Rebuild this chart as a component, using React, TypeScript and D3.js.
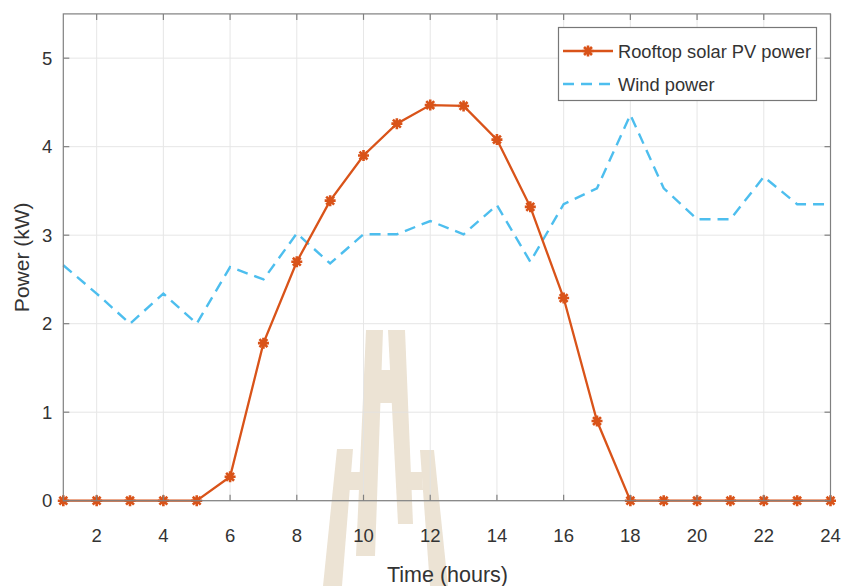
import React, { useEffect, useRef } from "react";
import * as d3 from "d3";

// Hourly generation profile, hours 1..24
const hours = d3.range(1, 25);
const solarPower = [0, 0, 0, 0, 0, 0.27, 1.78, 2.7, 3.39, 3.9, 4.26, 4.47, 4.46, 4.08, 3.32, 2.29, 0.9, 0, 0, 0, 0, 0, 0, 0];
const windPower = [2.66, 2.34, 2.0, 2.34, 2.0, 2.64, 2.5, 3.02, 2.68, 3.01, 3.01, 3.16, 3.01, 3.34, 2.7, 3.35, 3.53, 4.36, 3.53, 3.18, 3.18, 3.66, 3.35, 3.35];
const xTicks = [2, 4, 6, 8, 10, 12, 14, 16, 18, 20, 22, 24];
const yTicks = [0, 1, 2, 3, 4, 5];
const seriesNames = ["Rooftop solar PV power", "Wind power"];

const W = 842;
const H = 586;
const FONT = "'Liberation Sans', Arial, sans-serif";
const SOLAR = "#D95319";
const WIND = "#4DBEEE";
const AXIS = "#808080";
const GRID = "#e3e3e3";
const TEXT = "#333333";

// Logo polygons (emblem behind the plot)
const emblem: [number, number][][] = [
  [[366, 330], [383, 330], [375, 556], [356, 556]],
  [[388, 330], [405, 330], [413, 524], [398, 524]],
  [[380, 370], [392, 370], [392, 403], [380, 403]],
  [[337, 449], [353, 449], [342, 586], [323, 586]],
  [[350, 472], [364, 472], [363, 490], [349, 490]],
  [[420, 450], [434, 450], [448, 586], [430, 586]],
  [[407, 472], [422, 472], [423, 490], [408, 490]],
];

function asterisk(cx: number, cy: number, r: number) {
  const d = r * 0.72;
  return `M${cx - r},${cy}L${cx + r},${cy}M${cx},${cy - r}L${cx},${cy + r}` +
    `M${cx - d},${cy - d}L${cx + d},${cy + d}M${cx - d},${cy + d}L${cx + d},${cy - d}`;
}

export default function App() {
  const ref = useRef<SVGSVGElement | null>(null);

  useEffect(() => {
    const svg = d3.select(ref.current);
    svg.selectAll("*").remove();

    const x = d3.scaleLinear().domain([1, 24]).range([63.3, 830.5]);
    const y = d3.scaleLinear().domain([0, 5.5]).range([500.7, 13.9]);
    const [x0, x1] = x.range();
    const [y0, y1] = y.range();

    svg.append("rect").attr("width", W).attr("height", H).attr("fill", "#fff");

    // emblem
    svg.append("g").selectAll("polygon").data(emblem).join("polygon")
      .attr("points", (p) => p.map((q) => q.join(",")).join(" "))
      .attr("fill", "#ece3d4");

    // grid
    const grid = svg.append("g").attr("stroke", GRID).attr("stroke-width", 1).attr("opacity", 0.85);
    grid.selectAll("line.v").data(xTicks).join("line")
      .attr("x1", (d) => x(d)).attr("x2", (d) => x(d)).attr("y1", y0).attr("y2", y1);
    grid.selectAll("line.h").data(yTicks).join("line")
      .attr("x1", x0).attr("x2", x1).attr("y1", (d) => y(d)).attr("y2", (d) => y(d));

    // series
    const line = d3.line<number>().x((_, i) => x(hours[i])).y((d) => y(d));
    svg.append("path").datum(windPower).attr("d", line).attr("fill", "none")
      .attr("stroke", WIND).attr("stroke-width", 2.4).attr("stroke-dasharray", "11,7");
    svg.append("path").datum(solarPower).attr("d", line).attr("fill", "none")
      .attr("stroke", SOLAR).attr("stroke-width", 2.3);
    svg.append("g").selectAll("path").data(solarPower).join("path")
      .attr("d", (d, i) => asterisk(x(hours[i]), y(d), 5.5))
      .attr("stroke", SOLAR).attr("stroke-width", 2.6).attr("fill", "none");

    // axes box with inward ticks
    const ax = svg.append("g").attr("stroke", AXIS).attr("stroke-width", 1.2).attr("fill", "none");
    ax.append("rect").attr("x", x0).attr("y", y1).attr("width", x1 - x0).attr("height", y0 - y1);
    const tk = 6;
    xTicks.forEach((t) => {
      ax.append("line").attr("x1", x(t)).attr("x2", x(t)).attr("y1", y0).attr("y2", y0 - tk);
      ax.append("line").attr("x1", x(t)).attr("x2", x(t)).attr("y1", y1).attr("y2", y1 + tk);
    });
    yTicks.forEach((t) => {
      ax.append("line").attr("x1", x0).attr("x2", x0 + tk).attr("y1", y(t)).attr("y2", y(t));
      ax.append("line").attr("x1", x1).attr("x2", x1 - tk).attr("y1", y(t)).attr("y2", y(t));
    });

    // tick labels
    const lbl = svg.append("g").attr("font-family", FONT).attr("font-size", 18.5).attr("fill", TEXT);
    lbl.selectAll("text.x").data(xTicks).join("text")
      .attr("x", (d) => x(d)).attr("y", y0 + 41).attr("text-anchor", "middle").text((d) => d);
    lbl.selectAll("text.y").data(yTicks).join("text")
      .attr("x", x0 - 11).attr("y", (d) => y(d) + 6.5).attr("text-anchor", "end").text((d) => d);

    // axis titles
    svg.append("text").attr("x", 447.5).attr("y", 582).attr("text-anchor", "middle")
      .attr("font-family", FONT).attr("font-size", 21.5).attr("fill", TEXT).text("Time (hours)");
    svg.append("text").attr("transform", `translate(29,${(y0 + y1) / 2}) rotate(-90)`)
      .attr("text-anchor", "middle").attr("font-family", FONT).attr("font-size", 21)
      .attr("fill", TEXT).text("Power (kW)");

    // legend
    const lg = svg.append("g");
    lg.append("rect").attr("x", 558.5).attr("y", 27.5).attr("width", 258).attr("height", 73)
      .attr("fill", "#fff").attr("stroke", "#777").attr("stroke-width", 1.2);
    lg.append("line").attr("x1", 563).attr("x2", 613).attr("y1", 51).attr("y2", 51)
      .attr("stroke", SOLAR).attr("stroke-width", 2.3);
    lg.append("path").attr("d", asterisk(588, 51, 5.5)).attr("stroke", SOLAR).attr("stroke-width", 2.6);
    lg.append("line").attr("x1", 563).attr("x2", 613).attr("y1", 84).attr("y2", 84)
      .attr("stroke", WIND).attr("stroke-width", 2.4).attr("stroke-dasharray", "11,7");
    lg.selectAll("text").data(seriesNames).join("text")
      .attr("x", 618).attr("y", (_, i) => 57.5 + i * 33)
      .attr("font-family", FONT).attr("font-size", 18.3).attr("fill", TEXT).text((d) => d);
  }, []);

  return (
    <svg ref={ref} width={W} height={H} style={{ position: "fixed", left: 0, top: 0, display: "block" }} />
  );
}
